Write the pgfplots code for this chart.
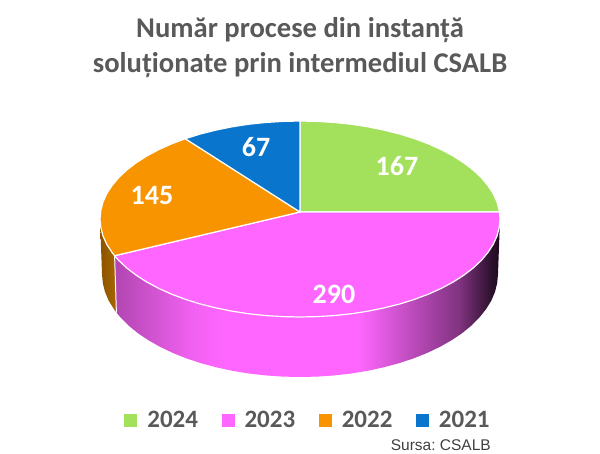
\documentclass[border=0pt]{standalone}
\usepackage{fontspec}
\setmainfont{Carlito}
\newfontfamily\arialfont{Liberation Sans}
\usepackage{pgfplots}
\pgfplotsset{compat=1.18}

\definecolor{cgreen}{HTML}{A3E05B}
\definecolor{cmagenta}{HTML}{FF66FF}
\definecolor{corange}{HTML}{F79400}
\definecolor{cblue}{HTML}{0A75CD}
\definecolor{ctext}{HTML}{595959}
\definecolor{sm1}{HTML}{B146B1}
\definecolor{sm2}{HTML}{F060F0}
\definecolor{sm3}{HTML}{C04DC0}
\definecolor{sm4}{HTML}{803380}
\definecolor{sm5}{HTML}{2A102A}
\definecolor{sm6}{HTML}{1E0A1E}
\definecolor{so1}{HTML}{A86600}
\definecolor{so2}{HTML}{8A5400}

% side of the pie: 25bp..75bp covers the width of the path
\pgfdeclarehorizontalshading{magentaside}{100bp}{
  color(0bp)=(sm1); color(25bp)=(sm1); color(34.9bp)=(sm2); color(39.2bp)=(cmagenta);
  color(56.6bp)=(cmagenta); color(63.2bp)=(sm3); color(69.7bp)=(sm4);
  color(74bp)=(sm5); color(75bp)=(sm6); color(100bp)=(sm6)}
\pgfdeclarehorizontalshading{orangeside}{100bp}{
  color(0bp)=(so2); color(25bp)=(so2); color(75bp)=(so1); color(100bp)=(so1)}

\begin{document}
\begin{tikzpicture}
\useasboundingbox (0,0) rectangle (600pt,453pt);
\begin{axis}[
    at={(0,0)}, anchor=south west,
    scale only axis,
    width=600pt,
    height=453pt,
    xmin=0, xmax=600,
    ymin=0, ymax=453,
    y dir=reverse,
    hide axis,
    clip=false,
    legend columns=4,
    legend image code/.code={\fill[#1,draw=none] (0pt,-6.5pt) rectangle (13pt,6.5pt);},
    legend style={at={(axis cs:307,420)}, anchor=center, draw=none, fill=none,
      inner sep=0pt, outer sep=0pt,
      font=\fontsize{25}{28}\selectfont\bfseries\color{ctext},
      nodes={inner xsep=0pt, inner ysep=1pt},
      /tikz/every even column/.append style={column sep=23.5pt},
      /tikz/every odd column/.append style={column sep=10pt}},
]
% side walls
\addplot[forget plot, draw=none, shade, shading=orangeside] coordinates {
(114.6,255.7) (112.1,252.5) (106.8,244.4) (103,236) (100.8,227.5) (100,219)
(102,274) (102.8,283) (105,291.9) (108.7,300.7) (114,309.2) (116.4,312.6)
} -- cycle;
\addplot[forget plot, draw=none, shade, shading=magentaside] coordinates {
(500,219) (499.2,227.5) (497,236) (493.2,244.4) (487.9,252.5) (481.3,260.4) (473.2,268)
(463.8,275.2) (453.2,282) (441.4,288.3) (428.6,294.1) (414.7,299.3) (400,303.9)
(384.5,307.8) (368.4,311.1) (351.8,313.7) (334.7,315.5) (317.4,316.6) (300,317)
(282.6,316.6) (265.3,315.5) (248.2,313.7) (231.6,311.1) (215.5,307.8) (200,303.9)
(185.3,299.3) (171.4,294.1) (158.6,288.3) (146.8,282) (136.2,275.2) (126.8,268)
(118.7,260.4) (114.6,255.7)
(116.4,312.6) (120.6,317.5) (128.5,325.5) (137.8,333.1) (148.3,340.2) (160,346.8)
(172.7,352.9) (186.4,358.4) (201,363.2) (216.3,367.3) (232.3,370.8) (248.8,373.5)
(265.6,375.4) (282.7,376.6) (300,377) (317.3,376.6) (334.4,375.4) (351.2,373.5)
(367.7,370.8) (383.7,367.3) (399,363.2) (413.6,358.4) (427.3,352.9) (440,346.8)
(451.7,340.2) (462.2,333.1) (471.5,325.5) (479.4,317.5) (486,309.2) (491.3,300.7)
(495,291.9) (497.2,283) (498,274)
} -- cycle;
\addplot[forget plot, white, line width=1pt] coordinates {(114.6,255.7) (116.4,312.6)};

% top of the pie
\addplot[fill=cgreen, draw=white, line width=1.2pt, line join=round] coordinates {
(300,212) (300,121) (317.4,121.4) (334.7,122.5) (351.8,124.3) (368.4,126.9) (384.5,130.2)
(400,134.1) (414.7,138.7) (428.6,143.9) (441.4,149.7) (453.2,156) (463.8,162.8) (473.2,170)
(481.3,177.6) (487.9,185.5) (493.2,193.6) (497,202) (499.2,210.5) (499.5,212)
} -- cycle;
\addlegendentry{2024}
\addplot[fill=cmagenta, draw=white, line width=1.2pt, line join=round] coordinates {
(300,212) (499.5,212) (500,219) (499.2,227.5) (497,236) (493.2,244.4) (487.9,252.5)
(481.3,260.4) (473.2,268) (463.8,275.2) (453.2,282) (441.4,288.3) (428.6,294.1) (414.7,299.3)
(400,303.9) (384.5,307.8) (368.4,311.1) (351.8,313.7) (334.7,315.5) (317.4,316.6) (300,317)
(282.6,316.6) (265.3,315.5) (248.2,313.7) (231.6,311.1) (215.5,307.8) (200,303.9) (185.3,299.3)
(171.4,294.1) (158.6,288.3) (146.8,282) (136.2,275.2) (126.8,268) (118.7,260.4) (114.6,255.7)
} -- cycle;
\addlegendentry{2023}
\addplot[fill=corange, draw=white, line width=1.2pt, line join=round] coordinates {
(300,212) (114.6,255.7) (112.1,252.5) (106.8,244.4) (103,236) (100.8,227.5) (100,219)
(100.8,210.5) (103,202) (106.8,193.6) (112.1,185.5) (118.7,177.6) (126.8,170) (136.2,162.8)
(146.8,156) (158.6,149.7) (171.4,143.9) (185.3,138.7)
} -- cycle;
\addlegendentry{2022}
\addplot[fill=cblue, draw=white, line width=1.2pt, line join=round] coordinates {
(300,212) (185.3,138.7) (200,134.1) (215.5,130.2) (231.6,126.9) (248.2,124.3) (265.3,122.5)
(282.6,121.4) (300,121)
} -- cycle;
\addlegendentry{2021}

% values on the slices
\addplot[forget plot, draw=none, point meta=explicit symbolic, nodes near coords,
    every node near coord/.append style={anchor=center, inner sep=0pt, text=white,
      font=\fontsize{28}{30}\selectfont\bfseries}]
  coordinates {(397,166) [167] (334,294) [290] (152,195) [145] (256,147) [67]};

\node[align=center, text=ctext, font=\fontsize{28.6}{35}\selectfont\bfseries]
  at (axis cs:300,48) {Număr procese din instanță\\soluționate prin intermediul CSALB};
\node[anchor=east, inner sep=0pt, text=black!75, font=\arialfont\frenchspacing\fontsize{15.5}{18}\selectfont]
  at (axis cs:491,445) {Sursa: CSALB};
\end{axis}
\end{tikzpicture}
\end{document}
